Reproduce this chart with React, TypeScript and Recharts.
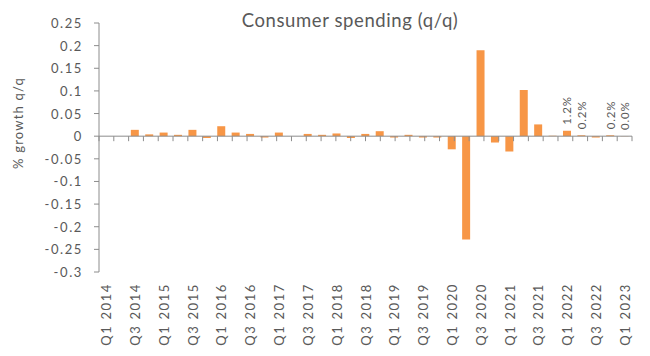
import { BarChart, Bar, XAxis, YAxis, ReferenceLine, LabelList } from "recharts";

const quarters = [
  "Q1 2014", "Q2 2014", "Q3 2014", "Q4 2014",
  "Q1 2015", "Q2 2015", "Q3 2015", "Q4 2015",
  "Q1 2016", "Q2 2016", "Q3 2016", "Q4 2016",
  "Q1 2017", "Q2 2017", "Q3 2017", "Q4 2017",
  "Q1 2018", "Q2 2018", "Q3 2018", "Q4 2018",
  "Q1 2019", "Q2 2019", "Q3 2019", "Q4 2019",
  "Q1 2020", "Q2 2020", "Q3 2020", "Q4 2020",
  "Q1 2021", "Q2 2021", "Q3 2021", "Q4 2021",
  "Q1 2022", "Q2 2022", "Q3 2022", "Q4 2022",
  "Q1 2023",
];

const growth = [
  null, null, 0.014, 0.004,
  0.008, 0.003, 0.014, -0.004,
  0.022, 0.008, 0.005, -0.003,
  0.008, 0, 0.005, 0.003,
  0.006, -0.004, 0.005, 0.011,
  -0.003, 0.003, -0.003, -0.003,
  -0.029, -0.228, 0.19, -0.014,
  -0.034, 0.102, 0.026, 0.001,
  0.012, 0.002, -0.003, 0.002,
  0.0004,
];

const barLabels = [
  "", "", "", "", "", "", "", "", "", "", "", "", "", "", "", "", "", "", "",
  "", "", "", "", "", "", "", "", "", "", "", "", "",
  "1.2%", "0.2%", "", "0.2%", "0.0%",
];

const yTicks = [-0.3, -0.25, -0.2, -0.15, -0.1, -0.05, 0, 0.05, 0.1, 0.15, 0.2, 0.25];

const data = quarters.map((q, i) => ({ q, growth: growth[i], label: barLabels[i] }));
const boundaries = [...quarters.map((_, i) => i), quarters.length];

const FONT = "Lato, 'Open Sans', sans-serif";
const TEXT = "#595959";
const AXIS = "#8c8c8c";
const ORANGE = "#F79646";

const XTick = ({ x, y, payload }: any) => (
  <text
    x={x}
    y={y}
    transform={`rotate(-90 ${x} ${y})`}
    textAnchor="end"
    dominantBaseline="central"
    fill={TEXT}
    fontSize={13}
    fontFamily={FONT}
    letterSpacing={1.6}
  >
    {payload.value}
  </text>
);

const YTick = ({ x, y, payload }: any) => (
  <text
    x={x}
    y={y}
    textAnchor="end"
    dominantBaseline="central"
    fill={TEXT}
    fontSize={13}
    fontFamily={FONT}
    letterSpacing={1.6}
  >
    {String(+payload.value.toFixed(2))}
  </text>
);

const BarLabel = ({ x, y, width, height, value }: any) => {
  if (!value) return null;
  const cx = x + width / 2;
  const top = Math.min(y, y + height) - 6;
  return (
    <text
      x={cx}
      y={top}
      transform={`rotate(-90 ${cx} ${top})`}
      textAnchor="start"
      dominantBaseline="central"
      fill={TEXT}
      fontSize={11.5}
      fontFamily={FONT}
      letterSpacing={0.8}
    >
      {value}
    </text>
  );
};

const ZeroTick = ({ x1, y1 }: any) => <line x1={x1} y1={y1} x2={x1} y2={y1 + 5} stroke={AXIS} strokeWidth={1} />;

export default function App() {
  return (
    <div style={{ position: "absolute", left: 0, top: 0, width: 650, height: 356, background: "#fff" }}>
      <BarChart
        width={650}
        height={356}
        data={data}
        margin={{ top: 23, right: 18, bottom: 0, left: 0 }}
      >
        <XAxis
          xAxisId="cat"
          dataKey="q"
          interval={1}
          axisLine={false}
          tickLine={false}
          tickSize={6}
          tickMargin={5}
          height={84}
          tick={<XTick />}
        />
        <XAxis xAxisId="num" type="number" domain={[0, quarters.length]} hide />
        <YAxis
          width={99}
          domain={[-0.3, 0.25]}
          ticks={yTicks}
          interval={0}
          stroke={AXIS}
          tickSize={5}
          tickMargin={11}
          tick={<YTick />}
        />
        <ReferenceLine xAxisId="cat" y={0} stroke={AXIS} strokeWidth={1} />
        {boundaries.map((b) => (
          <ReferenceLine
            key={b}
            xAxisId="num"
            segment={[{ x: b, y: 0 }, { x: b, y: 0 }]}
            shape={<ZeroTick />}
          />
        ))}
        <Bar xAxisId="cat" dataKey="growth" fill={ORANGE} barSize={8} isAnimationActive={false}>
          <LabelList dataKey="label" content={<BarLabel />} />
        </Bar>
      </BarChart>
      <svg width={650} height={356} style={{ position: "absolute", left: 0, top: 0, pointerEvents: "none" }}>
        <text x={350} y={27} textAnchor="middle" fill={TEXT} fontSize={18.5} fontFamily={FONT} letterSpacing={0.6}>
          Consumer spending (q/q)
        </text>
        <text
          x={23}
          y={123}
          transform="rotate(-90 23 123)"
          textAnchor="middle"
          fill={TEXT}
          fontSize={13}
          fontFamily={FONT}
          letterSpacing={1.2}
        >
          % growth q/q
        </text>
      </svg>
    </div>
  );
}
